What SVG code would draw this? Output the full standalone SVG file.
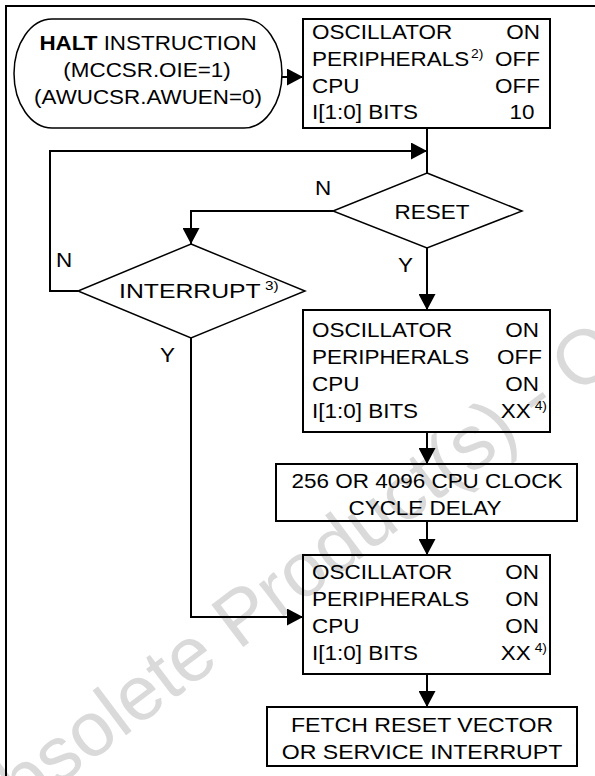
<svg xmlns="http://www.w3.org/2000/svg" width="595" height="776" viewBox="0 0 595 776">
<style>
.t{font-family:"Liberation Sans",Arial,Helvetica,sans-serif;font-size:21px;fill:#000}
.p{font-size:20px}
.sup{font-size:13px}
.box{fill:none;stroke:#000;stroke-width:2}
.dia{fill:none;stroke:#000;stroke-width:1.5}
.ln{fill:none;stroke:#000;stroke-width:2}
.wm{font-family:"Liberation Sans",Arial,sans-serif;font-size:77px;fill:#dadada}
</style>
<defs>
<marker id="ah" markerUnits="userSpaceOnUse" markerWidth="16" markerHeight="17" refX="16" refY="8.5" orient="auto">
<path d="M0,0 L16,8.5 L0,17 Z" fill="#000"/>
</marker>
</defs>
<rect x="0" y="0" width="595" height="776" fill="#fff"/>
<text class="wm" transform="translate(-25,849) rotate(-37)">Obsolete Product(s) - Obsolete Product(s)</text>
<rect id="frame" x="6" y="6" width="620" height="800" fill="none" stroke="#000" stroke-width="2"/>

<g id="node-halt">
<rect x="14" y="19" width="268" height="109" rx="38" ry="54.5" class="dia"/>
<text class="t p" text-anchor="middle" transform="translate(148,50) scale(1.12,1)"><tspan font-weight="bold">HALT</tspan> INSTRUCTION</text>
<text class="t p" text-anchor="middle" transform="translate(147,77) scale(1.12,1)">(MCCSR.OIE=1)</text>
<text class="t p" text-anchor="middle" transform="translate(148,104) scale(1.12,1)">(AWUCSR.AWUEN=0)</text>
</g>

<g id="node-state1">
<rect x="303" y="19" width="247" height="109" class="box"/>
<text class="t" transform="translate(312,39) scale(1.07,1)">OSCILLATOR</text>
<text class="t" transform="translate(312,66) scale(1.07,1)">PERIPHERALS</text>
<text class="t sup" transform="translate(471,58) scale(1.07,1)">2)</text>
<text class="t" transform="translate(312,93) scale(1.07,1)">CPU</text>
<text class="t" transform="translate(312,119) scale(1.07,1)">I[1:0] BITS</text>
<text class="t" text-anchor="end" transform="translate(540,39) scale(1.07,1)">ON</text>
<text class="t" text-anchor="end" transform="translate(540,66) scale(1.07,1)">OFF</text>
<text class="t" text-anchor="end" transform="translate(540,93) scale(1.07,1)">OFF</text>
<text class="t" text-anchor="middle" transform="translate(522,119) scale(1.07,1)">10</text>
</g>

<g id="node-reset">
<polygon points="427,173 522,211 427,248 333,211" class="dia"/>
<text class="t" text-anchor="middle" transform="translate(432,219) scale(1.07,1)">RESET</text>
</g>

<g id="node-interrupt">
<polygon points="191,244 305,291 191,338 78,291" class="dia"/>
<text class="t" transform="translate(119,298) scale(1.18,1)">INTERRUPT<tspan class="sup" dy="-8"> 3)</tspan></text>
</g>

<g id="node-state2">
<rect x="303" y="310" width="247" height="122" class="box"/>
<text class="t" transform="translate(312,337) scale(1.07,1)">OSCILLATOR</text>
<text class="t" transform="translate(312,364) scale(1.07,1)">PERIPHERALS</text>
<text class="t" transform="translate(312,391) scale(1.07,1)">CPU</text>
<text class="t" transform="translate(312,418) scale(1.07,1)">I[1:0] BITS</text>
<text class="t" text-anchor="end" transform="translate(539,337) scale(1.07,1)">ON</text>
<text class="t" text-anchor="end" transform="translate(542,364) scale(1.07,1)">OFF</text>
<text class="t" text-anchor="end" transform="translate(539,391) scale(1.07,1)">ON</text>
<text class="t" text-anchor="end" transform="translate(547,418) scale(1.07,1)">XX<tspan class="sup" dy="-8"> 4)</tspan></text>
</g>

<g id="node-delay">
<rect x="276" y="464" width="301" height="57" class="box"/>
<text class="t" text-anchor="middle" transform="translate(427,488) scale(1.07,1)">256 OR 4096 CPU CLOCK</text>
<text class="t" text-anchor="middle" transform="translate(425,515) scale(1.07,1)">CYCLE DELAY</text>
</g>

<g id="node-state3">
<rect x="303" y="555" width="247" height="119" class="box"/>
<text class="t" transform="translate(312,579) scale(1.07,1)">OSCILLATOR</text>
<text class="t" transform="translate(312,606) scale(1.07,1)">PERIPHERALS</text>
<text class="t" transform="translate(312,633) scale(1.07,1)">CPU</text>
<text class="t" transform="translate(312,660) scale(1.07,1)">I[1:0] BITS</text>
<text class="t" text-anchor="end" transform="translate(539,579) scale(1.07,1)">ON</text>
<text class="t" text-anchor="end" transform="translate(539,606) scale(1.07,1)">ON</text>
<text class="t" text-anchor="end" transform="translate(539,633) scale(1.07,1)">ON</text>
<text class="t" text-anchor="end" transform="translate(547,660) scale(1.07,1)">XX<tspan class="sup" dy="-8"> 4)</tspan></text>
</g>

<g id="node-fetch">
<rect x="267" y="707" width="310" height="59" class="box"/>
<text class="t" text-anchor="middle" transform="translate(422,732) scale(1.1,1)">FETCH RESET VECTOR</text>
<text class="t" text-anchor="middle" transform="translate(422,759) scale(1.1,1)">OR SERVICE INTERRUPT</text>
</g>

<g id="connectors">
<path class="ln" d="M282,77 H303" marker-end="url(#ah)"/>
<path class="ln" d="M427,128 V173"/>
<path class="ln" d="M333,211 H191 V244" marker-end="url(#ah)"/>
<path class="ln" d="M427,248 V310" marker-end="url(#ah)"/>
<path class="ln" d="M78,291 H50 V151 H427" marker-end="url(#ah)"/>
<path class="ln" d="M191,338 V617 H303" marker-end="url(#ah)"/>
<path class="ln" d="M427,432 V464" marker-end="url(#ah)"/>
<path class="ln" d="M427,521 V555" marker-end="url(#ah)"/>
<path class="ln" d="M427,674 V707" marker-end="url(#ah)"/>
<text class="t" transform="translate(315,195) scale(1.07,1)">N</text>
<text class="t" transform="translate(398,272) scale(1.07,1)">Y</text>
<text class="t" transform="translate(56,267) scale(1.07,1)">N</text>
<text class="t" transform="translate(160,362) scale(1.07,1)">Y</text>
</g>
</svg>
